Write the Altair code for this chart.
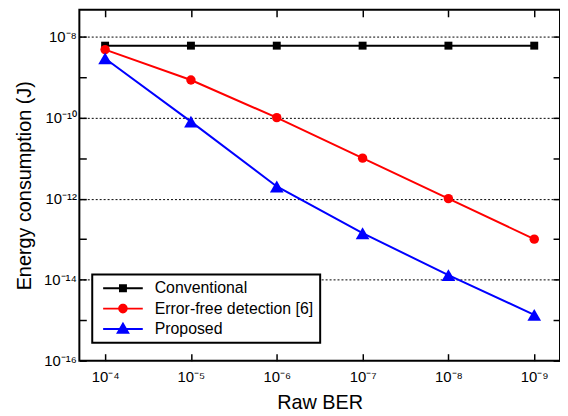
import altair as alt
import pandas as pd

# ---------------- data ----------------
ber_labels = ["10⁻⁴", "10⁻⁵", "10⁻⁶", "10⁻⁷", "10⁻⁸", "10⁻⁹"]
series_names = ["Conventional", "Error-free detection [6]", "Proposed"]
conventional = [6.0e-9, 6.0e-9, 6.0e-9, 6.0e-9, 6.0e-9, 6.0e-9]
error_free = [4.8e-9, 8.5e-10, 1.0e-10, 1.0e-11, 1.0e-12, 1.0e-13]
proposed = [2.9e-9, 8.0e-11, 2.0e-12, 1.4e-13, 1.3e-14, 1.35e-15]

y_tick_exponents = [-16, -15, -14, -13, -12, -11, -10, -9, -8]
y_tick_labels = ["10⁻¹⁶", "", "10⁻¹⁴", "", "10⁻¹²", "", "10⁻¹⁰", "", "10⁻⁸"]

# ---------------- styles ----------------
series_colors = ["#000000", "#ff0000", "#0000ff"]
series_markers = ["square", "circle", "triangle-up"]
marker_sizes = [64, 90, 190]
# legend glyphs: a line segment with the marker on it (unit = 8 px at symbolSize 256)
legend_symbols = [
    "M-2.5,-0.125H2.5V0.125H-2.5Z M-0.5,-0.5H0.5V0.5H-0.5Z",
    "M-2.5,-0.125H2.5V0.125H-2.5Z M0.6,0A0.6,0.6 0 1 1 -0.6,0A0.6,0.6 0 1 1 0.6,0Z",
    "M-2.5,-0.125H2.5V0.125H-2.5Z M0,-0.9L0.875,0.6L-0.875,0.6Z",
]
FONT = "Liberation Sans"

rows = []
for si, name in enumerate(series_names):
    vals = [conventional, error_free, proposed][si]
    for bi, b in enumerate(ber_labels):
        rows.append({"series": name, "ber": b, "idx": bi, "energy": vals[bi],
                     "col": series_colors[si], "marker": series_markers[si],
                     "msize": marker_sizes[si]})
df = pd.DataFrame(rows)

y_values = [10.0 ** e for e in y_tick_exponents]
label_expr = "''"
for e, lab in reversed(list(zip(y_tick_exponents, y_tick_labels))):
    label_expr = f"round(log(datum.value)/LN10) == {e} ? '{lab}' : {label_expr}"

x_scale = alt.Scale(type="point", padding=0.3, domain=ber_labels)
y_scale = alt.Scale(type="log", domain=[1e-16, 4.6e-8], nice=False)
color_scale = alt.Scale(domain=series_names, range=series_colors)

TICK = 7


def tick_axis(orient, values=None):
    kw = dict(orient=orient, title=None, labels=False, tickSize=TICK, offset=-TICK,
              tickColor="black", tickWidth=1.5, domain=False, grid=False)
    if values is not None:
        kw["values"] = values
    return alt.Axis(**kw)


x_bottom = alt.Axis(orient="bottom", title="Raw BER", titleFont=FONT, titleFontSize=20,
                    titleFontWeight="normal", titleColor="black", titlePadding=8,
                    labelFont=FONT, labelFontSize=15, labelColor="black", labelAngle=0,
                    labelPadding=9, ticks=False, tickSize=0, domain=False, grid=False)
y_left = alt.Axis(orient="left", title="Energy consumption (J)", titleFont=FONT, titleFontSize=20,
                  titleFontWeight="normal", titleColor="black", titlePadding=9,
                  labelFont=FONT, labelFontSize=15, labelColor="black", labelPadding=3,
                  labelExpr=label_expr, labelFlush=False, labelOverlap=False,
                  values=y_values, ticks=False, tickSize=0,
                  domain=False, grid=True, gridColor="black", gridDash=[2, 2], gridWidth=1,
                  gridOpacity={"condition": {"test": "round(log(datum.value)/LN10) % 2 == 0 && datum.value > 2e-16",
                                             "value": 1}, "value": 0})

base = alt.Chart(df)

lines = base.mark_line(strokeWidth=2).encode(
    x=alt.X("ber:N", scale=x_scale, axis=x_bottom),
    y=alt.Y("energy:Q", scale=y_scale, axis=y_left),
    color=alt.Color("col:N", scale=None),
    detail="series:N",
    order=alt.Order("idx:Q"),
)

points = base.mark_point(filled=True, opacity=1).encode(
    x=alt.X("ber:N", scale=x_scale, axis=tick_axis("top")),
    y=alt.Y("energy:Q", scale=y_scale, axis=tick_axis("right", y_values)),
    color=alt.Color("col:N", scale=None),
    shape=alt.Shape("marker:N", scale=None),
    size=alt.Size("msize:Q", scale=None),
)

leg = alt.Legend(orient="none", legendX=13, legendY=267, title=None, padding=6,
                 strokeColor="black", symbolSize=256, symbolStrokeWidth=0,
                 symbolOffset=17, labelOffset=24,
                 labelFont=FONT, labelFontSize=16, labelColor="black", labelLimit=400,
                 rowPadding=4.5, fillColor="white")

legend_layer = base.transform_filter("false").mark_point(filled=True, opacity=1).encode(
    x=alt.X("ber:N", scale=x_scale, axis=tick_axis("bottom")),
    y=alt.Y("energy:Q", scale=y_scale, axis=tick_axis("left", y_values)),
    color=alt.Color("series:N", scale=color_scale, legend=leg),
    shape=alt.Shape("series:N", scale=alt.Scale(domain=series_names, range=legend_symbols), legend=leg),
)

chart = alt.layer(lines, points, legend_layer).resolve_axis(
    x="independent", y="independent"
).properties(
    width=485, height=354,
    autosize=alt.AutoSizeParams(type="none"),
    padding={"left": 72, "top": 0, "right": 0, "bottom": 54},
).configure_view(
    stroke="black", strokeWidth=2
).configure_legend(
    strokeWidth=2
)

chart.save("out.html", embed_options={"renderer": "svg", "actions": False})
